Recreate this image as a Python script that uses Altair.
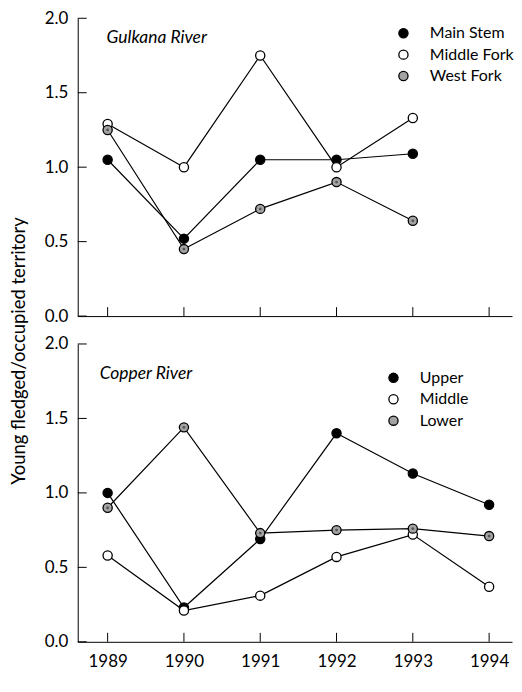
import altair as alt
import pandas as pd

years = [1989, 1990, 1991, 1992, 1993, 1994]

gulkana_series = ["Main Stem", "Middle Fork", "West Fork"]
gulkana_main_stem = [1.05, 0.52, 1.05, 1.05, 1.09]
gulkana_middle_fork = [1.29, 1.00, 1.75, 1.00, 1.33]
gulkana_west_fork = [1.25, 0.45, 0.72, 0.90, 0.64]

copper_series = ["Upper", "Middle", "Lower"]
copper_upper = [1.00, 0.23, 0.69, 1.40, 1.13, 0.92]
copper_middle = [0.58, 0.21, 0.31, 0.57, 0.72, 0.37]
copper_lower = [0.90, 1.44, 0.73, 0.75, 0.76, 0.71]

y_ticks = [0.0, 0.5, 1.0, 1.5, 2.0]
y_title = "Young fledged/occupied territory"
fills = ["#000000", "#ffffff", "#a3a3a3"]

W, H = 436, 299
FONT = "Lato"


def long_table(names, arrays):
    rows = []
    for i, (name, vals) in enumerate(zip(names, arrays)):
        for yr, v in zip(years, vals):
            rows.append({"year": yr, "value": v, "series": name, "k": i})
    return pd.DataFrame(rows)


xscale = alt.Scale(domain=[1988.608, 1994.30], nice=False, zero=False)
yscale = alt.Scale(domain=[0, 2], nice=False, zero=False)


def panel(title, names, arrays, bottom, with_ytitle, leg_xy, title_xy):
    df = long_table(names, arrays)
    xaxis = alt.Axis(values=years, format="d", ticks=False, grid=False, labels=bottom,
                     domainColor="black", domainWidth=1, labelFontSize=17, labelPadding=12,
                     labelFont=FONT, labelColor="black", title=None)
    yaxis = alt.Axis(values=y_ticks, format=".1f", ticks=False, grid=False,
                     domainColor="black", domainWidth=1, labelFontSize=17, labelPadding=10,
                     labelFont=FONT, labelColor="black", title=None)

    X = alt.X("year:Q", scale=xscale, axis=xaxis)
    Y = alt.Y("value:Q", scale=yscale, axis=yaxis)

    lines = alt.Chart(df).mark_line(color="black", strokeWidth=1.2).encode(
        x=X, y=Y, detail="series:N")

    points = alt.Chart(df).mark_point(filled=True, size=85, stroke="black",
                                      strokeWidth=1.3, opacity=1).encode(
        x=X, y=Y,
        fill=alt.Fill("series:N", scale=alt.Scale(domain=names, range=fills),
                      legend=alt.Legend(orient="none", legendX=leg_xy[0], legendY=leg_xy[1],
                                        title=None, labelFontSize=16, labelFont=FONT,
                                        labelColor="black", symbolSize=85,
                                        symbolStrokeColor="black", symbolStrokeWidth=1.3,
                                        symbolType="circle", labelOffset=18.5,
                                        rowPadding=5.5, padding=0)),
    )

    dots = alt.Chart(df[df["k"] == 2]).mark_point(filled=True, size=8, color="#555555",
                                                 opacity=1).encode(x=X, y=Y)

    ytick_rules = alt.Chart(pd.DataFrame({"value": y_ticks})).mark_rule(
        color="black", strokeWidth=1).encode(
        x=alt.value(0), x2=alt.value(9), y=Y)

    xtick_rules = alt.Chart(pd.DataFrame({"year": years})).mark_rule(
        color="black", strokeWidth=1).encode(
        x=X, y=alt.value(H), y2=alt.value(H - 9))

    label = alt.Chart(pd.DataFrame({"t": [title]})).mark_text(
        align="left", baseline="alphabetic", fontStyle="italic", fontSize=17.5,
        font=FONT, color="black").encode(
        x=alt.value(title_xy[0]), y=alt.value(title_xy[1]), text="t:N")

    layers = [lines, ytick_rules, xtick_rules, points, dots, label]
    if with_ytitle:
        ytl = alt.Chart(pd.DataFrame({"t": [y_title]})).mark_text(
            angle=270, align="center", baseline="middle", fontSize=18.5,
            font=FONT, color="black").encode(
            x=alt.value(-59), y=alt.value(334), text="t:N")
        layers.append(ytl)

    return alt.layer(*layers).properties(width=W, height=H)


top = panel("Gulkana River", gulkana_series,
            [gulkana_main_stem, gulkana_middle_fork, gulkana_west_fork],
            bottom=False, with_ytitle=True,
            leg_xy=(319, 7), title_xy=(29, 25))
bottom = panel("Copper River", copper_series,
               [copper_upper, copper_middle, copper_lower],
               bottom=True, with_ytitle=False,
               leg_xy=(309, 26), title_xy=(22, 35))

chart = alt.vconcat(top, bottom, spacing=28, bounds="flush").resolve_scale(
    fill="independent").resolve_legend(fill="independent").properties(
    padding={"left": 2, "top": 0, "right": 0, "bottom": 0}
).configure_view(stroke=None)

chart.save("out.html", embed_options={"renderer": "svg", "actions": False})
